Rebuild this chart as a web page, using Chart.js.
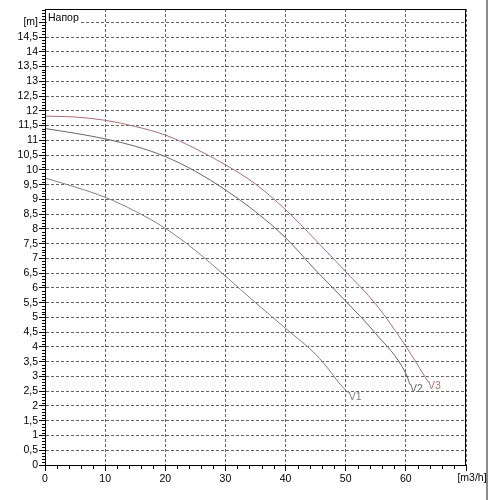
<!DOCTYPE html>
<html>
<head>
<meta charset="utf-8">
<script src="https://cdn.jsdelivr.net/npm/chart.js@4.4.0/dist/chart.umd.min.js"></script>
<style>
html, body { margin: 0; padding: 0; background: #fff; }
#wrap { position: relative; width: 500px; height: 500px; overflow: hidden; }
#edge { position: absolute; left: 486px; top: 0; width: 2px; height: 500px; background: #8c8c8c; }
</style>
</head>
<body>
<div id="wrap">
  <canvas id="qh" width="500" height="500"></canvas>
  <div id="edge"></div>
</div>
<script>
// Q-H pump curves
var flowV1 = [0, 5, 10, 15, 20, 25, 30, 35, 40, 45, 47.7, 48.6, 50.5];
var headV1 = [9.72, 9.42, 9.07, 8.6, 8.02, 7.27, 6.4, 5.5, 4.63, 3.75, 3.1, 2.85, 2.43];

var flowV2 = [0, 5, 10, 15, 20, 25, 30, 35, 40, 45, 50, 55, 60, 60.7];
var headV2 = [11.4, 11.24, 11.05, 10.8, 10.45, 9.95, 9.32, 8.58, 7.7, 6.6, 5.55, 4.45, 3.1, 2.72];

var flowV3 = [0, 5, 10, 15, 20, 25, 30, 35, 40, 45, 50, 55, 60, 63.7];
var headV3 = [11.82, 11.79, 11.68, 11.47, 11.18, 10.72, 10.17, 9.52, 8.65, 7.62, 6.55, 5.45, 4.02, 2.82];

var curveNames = ['V1', 'V2', 'V3'];
var curveColors = ['#808080', '#666666', '#a96e7b'];

var xTicks = [0, 10, 20, 30, 40, 50, 60, 70];
var yTicks = [0, 0.5, 1, 1.5, 2, 2.5, 3, 3.5, 4, 4.5, 5, 5.5, 6, 6.5, 7, 7.5,
              8, 8.5, 9, 9.5, 10, 10.5, 11, 11.5, 12, 12.5, 13, 13.5, 14, 14.5, 15];
var xUnit = '[m3/h]';
var yUnit = '[m]';
var headTitle = 'Напор';

var fontFam = '"Liberation Sans", Arial, sans-serif';

function toPoints(xs, ys) {
  var pts = [];
  for (var i = 0; i < xs.length; i++) pts.push({ x: xs[i], y: ys[i] });
  return pts;
}

var allFlows = [flowV1, flowV2, flowV3];
var allHeads = [headV1, headV2, headV3];
var datasets = [];
for (var k = 0; k < curveNames.length; k++) {
  datasets.push({
    label: curveNames[k],
    data: toPoints(allFlows[k], allHeads[k]),
    borderColor: curveColors[k],
    borderWidth: 1,
    pointRadius: 0,
    fill: false,
    cubicInterpolationMode: 'monotone'
  });
}

// frame, minor ticks, unit label, inner title and curve names
var decor = {
  id: 'decor',
  afterDraw: function (chart) {
    var ctx = chart.ctx, a = chart.chartArea;
    var xs = chart.scales.x, ys = chart.scales.y;
    ctx.save();
    ctx.strokeStyle = '#000';
    ctx.lineWidth = 1;
    ctx.beginPath();
    for (var i = 1; i < 155; i++) {
      if (i % 5 === 0) continue;
      var py = Math.round(ys.getPixelForValue(i / 10)) + 0.5;
      ctx.moveTo(a.left - 3, py);
      ctx.lineTo(a.left, py);
    }
    for (var j = 2; j < 70; j += 2) {
      if (j % 10 === 0) continue;
      var px = Math.round(xs.getPixelForValue(j)) + 0.5;
      ctx.moveTo(px, a.bottom);
      ctx.lineTo(px, a.bottom + 4);
    }
    ctx.stroke();

    ctx.strokeRect(Math.round(a.left) + 0.5, Math.round(a.top) + 0.5,
                   Math.round(a.width) - 1, Math.round(a.height));

    ctx.font = '10.5px ' + fontFam;
    ctx.fillStyle = '#000';
    ctx.textAlign = 'center';
    ctx.textBaseline = 'top';
    ctx.fillText(xUnit, xs.getPixelForValue(70) + 6, a.bottom + 8);

    ctx.textAlign = 'left';
    ctx.textBaseline = 'alphabetic';
    var ty = ys.getPixelForValue(15) - 1;
    var tw = ctx.measureText(headTitle).width;
    ctx.fillStyle = '#fff';
    ctx.fillRect(a.left + 2, ty - 9, tw + 2, 12);
    ctx.fillStyle = '#000';
    ctx.fillText(headTitle, a.left + 3, ty);

    ctx.textBaseline = 'top';
    for (var d = 0; d < chart.data.datasets.length; d++) {
      var meta = chart.getDatasetMeta(d);
      var last = meta.data[meta.data.length - 1];
      ctx.fillStyle = curveColors[d];
      ctx.fillText(curveNames[d], last.x, last.y - 1);
    }
    ctx.restore();
  }
};

new Chart(document.getElementById('qh'), {
  type: 'line',
  data: { datasets: datasets },
  plugins: [decor],
  options: {
    responsive: false,
    animation: false,
    devicePixelRatio: 1,
    layout: { padding: { top: 9, right: 34, left: 0, bottom: 0 } },
    plugins: { legend: { display: false }, tooltip: { enabled: false } },
    scales: {
      x: {
        type: 'linear',
        min: 0,
        max: 70,
        afterBuildTicks: function (axis) {
          axis.ticks = xTicks.map(function (v) { return { value: v }; });
        },
        afterFit: function (axis) { axis.height = 35; },
        ticks: {
          autoSkip: false,
          maxRotation: 0,
          padding: 2,
          color: '#000',
          font: { family: fontFam, size: 10.5 },
          callback: function (v) { return v === 70 ? '' : String(v); }
        },
        grid: {
          color: '#666',
          lineWidth: 1,
          tickLength: 6,
          tickColor: '#000',
          tickBorderDash: []
        },
        border: { color: '#000', width: 1, dash: [3, 2] }
      },
      y: {
        type: 'linear',
        min: 0,
        max: 15.45,
        afterBuildTicks: function (axis) {
          axis.ticks = yTicks.map(function (v) { return { value: v }; });
        },
        afterFit: function (axis) { axis.width = 45; },
        ticks: {
          autoSkip: false,
          padding: 1,
          color: '#000',
          font: { family: fontFam, size: 10.5 },
          callback: function (v) { return v === 15 ? yUnit : String(v).replace('.', ','); }
        },
        grid: {
          color: '#666',
          lineWidth: 1,
          tickLength: 6,
          tickColor: '#000',
          tickBorderDash: []
        },
        border: { color: '#000', width: 1, dash: [3, 2] }
      }
    }
  }
});
</script>
</body>
</html>
